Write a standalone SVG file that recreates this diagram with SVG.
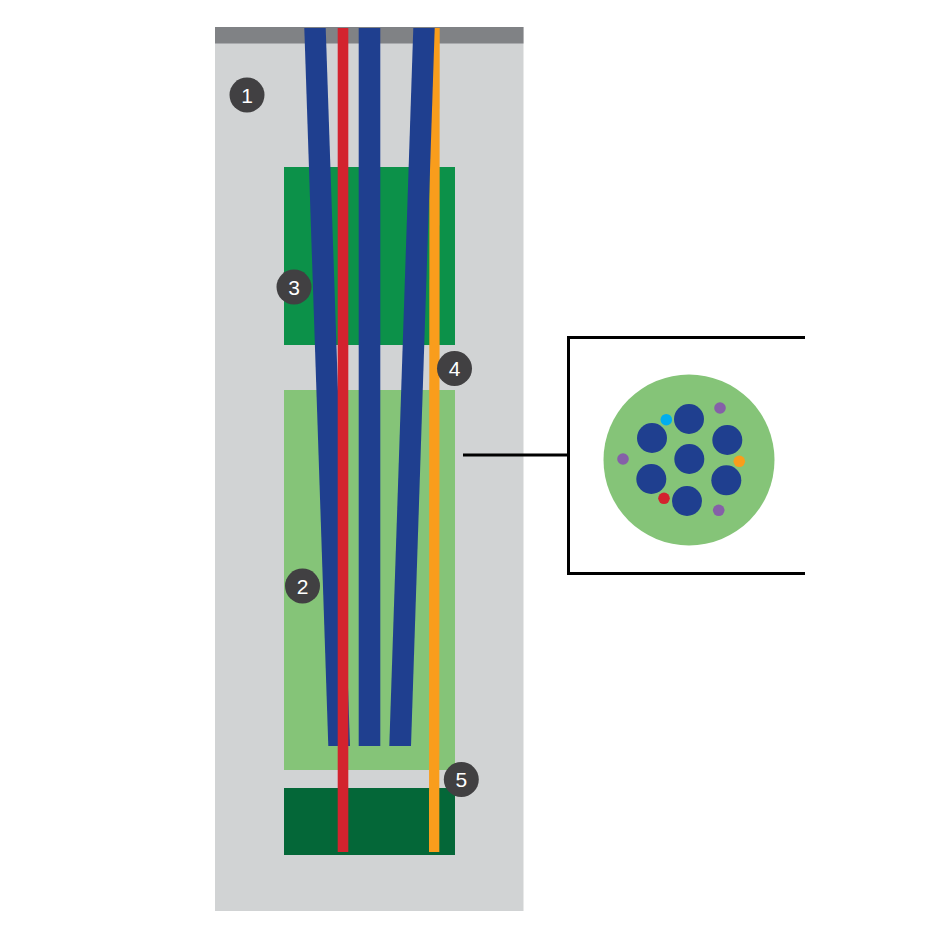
<svg xmlns="http://www.w3.org/2000/svg" width="945" height="945" viewBox="0 0 945 945">
<style>
.blue{fill:#1f3f8f}
.red{fill:#d3232e}
.orange{fill:#f99d1c}
.purple{fill:#8560a8}
.badge{fill:#414042}
.num{fill:#fff;font-family:"Liberation Sans",Arial,sans-serif;font-size:21px;text-anchor:middle}
.line{fill:none;stroke:#000;stroke-width:3}
</style>
<rect width="945" height="945" fill="#fff"/>
<g id="housing">
<rect x="215" y="27" width="308.500" height="884" fill="#d1d3d4"/>
<rect x="215" y="27" width="308.500" height="16.500" fill="#808285"/>
</g>
<g id="zone-upper"><rect x="284" y="167" width="171" height="178" fill="#0c9149"/></g>
<g id="zone-middle"><rect x="284" y="390" width="171" height="380" fill="#85c478"/></g>
<g id="zone-lower"><rect x="284" y="788" width="171" height="67" fill="#046738"/></g>
<g id="fibres">
<polygon class="orange" points="429.500,28 439.700,28 439.300,852 429,852"/>
<polygon class="blue" points="304.300,28 325.700,28 350,746 328.300,746"/>
<polygon class="blue" points="358.700,28 380.300,28 380.300,746 358.700,746"/>
<polygon class="blue" points="413.300,28 434.700,28 411,746 389.300,746"/>
<rect class="red" x="337.700" y="28" width="10.600" height="824"/>
</g>
<g id="cross-section">
<circle cx="689" cy="460" r="85.500" fill="#85c478"/>
<circle class="blue" cx="689" cy="419" r="15"/>
<circle class="blue" cx="652" cy="438" r="15"/>
<circle class="blue" cx="727.300" cy="440" r="15"/>
<circle class="blue" cx="689.300" cy="459" r="15"/>
<circle class="blue" cx="651.300" cy="479" r="15"/>
<circle class="blue" cx="726.300" cy="480.300" r="15"/>
<circle class="blue" cx="687" cy="501" r="15"/>
<circle cx="666.300" cy="419.700" r="5.800" fill="#00aeef"/>
<circle class="purple" cx="720" cy="408" r="5.800"/>
<circle class="purple" cx="623" cy="459" r="5.800"/>
<circle class="orange" cx="739.300" cy="461.300" r="5.800"/>
<circle class="red" cx="664" cy="498.300" r="5.800"/>
<circle class="purple" cx="718.700" cy="510.300" r="5.800"/>
</g>
<g id="connectors">
<path class="line" d="M463 455H568"/>
<path class="line" d="M805 337.500H568.500V573.500H805"/>
</g>
<g id="badge-1"><circle class="badge" cx="247" cy="95" r="17.500"/><text class="num" x="247" y="102.500">1</text></g>
<g id="badge-2"><circle class="badge" cx="302.500" cy="586" r="17.500"/><text class="num" x="302.500" y="593.500">2</text></g>
<g id="badge-3"><circle class="badge" cx="294" cy="287" r="17.500"/><text class="num" x="294" y="294.500">3</text></g>
<g id="badge-4"><circle class="badge" cx="454.500" cy="368.500" r="17.500"/><text class="num" x="454.500" y="376">4</text></g>
<g id="badge-5"><circle class="badge" cx="461.300" cy="779.500" r="17.500"/><text class="num" x="461.300" y="787">5</text></g>
</svg>
